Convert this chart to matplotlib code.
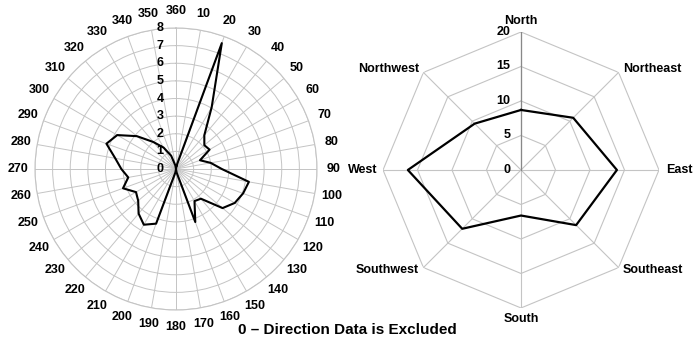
import matplotlib
matplotlib.use('Agg')
import matplotlib.pyplot as plt
import numpy as np

plt.rcParams['font.family'] = ['Liberation Sans', 'DejaVu Sans']
plt.rcParams['font.weight'] = 'bold'

# --- Données ---
# Rose des vents : pourcentage par pas de 10 degrés
directions = list(range(10, 370, 10))
pourcentages = [0.2, 7.6, 4.05, 2.5, 2.1, 2.2, 1.45, 2.0, 2.6,
                4.2, 4.05, 3.85, 3.45, 2.2, 2.1, 3.2, 0.2, 0.0,
                0.2, 3.3, 3.65, 3.3, 2.8, 2.62, 3.2, 2.75, 3.1,
                3.5, 4.2, 3.85, 2.9, 2.0, 1.4, 0.8, 0.2, 0.0]
rayons = list(range(0, 9))

# Regroupement par points cardinaux
points_cardinaux = ['North', 'Northeast', 'East', 'Southeast',
                    'South', 'Southwest', 'West', 'Northwest']
valeurs_cardinaux = [8.7, 10.7, 13.9, 11.3, 6.6, 12.05, 16.4, 9.5]
niveaux = [0, 5, 10, 15, 20]

gris = '#c4c4c4'

fig = plt.figure(figsize=(6.97, 3.44), dpi=100)

# --- Graphe de gauche : 36 directions ---
ax1 = fig.add_axes([0.0502, 0.0988, 0.4046, 0.8198], projection='polar')
ax1.set_theta_zero_location('N')
ax1.set_theta_direction(-1)

theta = np.radians(directions + [directions[0]])
r = pourcentages + [pourcentages[0]]
ax1.plot(theta, r, color='black', lw=1.5, zorder=3)

ax1.set_ylim(0, rayons[-1])
ax1.set_xticks(np.radians(directions))
ax1.set_xticklabels([str(d) for d in directions], fontsize=9, fontweight='bold')
ax1.tick_params(axis='x', pad=1.5)
ax1.set_yticks(rayons[1:])
ax1.set_yticklabels([])
ax1.grid(color=gris, lw=0.7)
ax1.spines['polar'].set_color(gris)
ax1.spines['polar'].set_linewidth(0.8)

for rv in rayons:
    ax1.annotate(str(rv), xy=(0, rv), xytext=(-9, 0), textcoords='offset points',
                 ha='right', va='center', fontsize=9, fontweight='bold')

# --- Graphe de droite : 8 points cardinaux ---
ax2 = fig.add_axes([0.5495, 0.1047, 0.396, 0.8023], projection='polar')
ax2.set_theta_zero_location('N')
ax2.set_theta_direction(-1)
ax2.set_ylim(0, niveaux[-1])
ax2.axis('off')

angles = np.radians(np.arange(0, 360, 360 / len(points_cardinaux)))
angles_fermes = np.append(angles, angles[0])

# Octogones de la grille
for n in niveaux[1:]:
    ax2.plot(angles_fermes, [n] * len(angles_fermes), color=gris, lw=0.8)
# Rayons
for a in angles:
    ax2.plot([a, a], [0, niveaux[-1]], color=gris, lw=0.8)
ax2.plot([0, 0], [0, niveaux[-1]], color='#888888', lw=0.9)

ax2.plot(angles_fermes, valeurs_cardinaux + [valeurs_cardinaux[0]],
         color='black', lw=1.6, zorder=3)

for n in niveaux:
    ax2.annotate(str(n), xy=(0, n), xytext=(-7.5, 0), textcoords='offset points',
                 ha='right', va='center', fontsize=9, fontweight='bold')

# Position des étiquettes autour de l'octogone
placements = [((0, 6), 'center', 'baseline'),
              ((3, 0), 'left', 'baseline'),
              ((5, 0), 'left', 'center'),
              ((3, -2), 'left', 'center'),
              ((0, -3.5), 'center', 'top'),
              ((-3, -2), 'right', 'center'),
              ((-4, 0), 'right', 'center'),
              ((-3, 0), 'right', 'baseline')]
for a, nom, (decal, ha, va) in zip(angles, points_cardinaux, placements):
    ax2.annotate(nom, xy=(a, niveaux[-1]), xytext=decal, textcoords='offset points',
                 ha=ha, va=va, fontsize=9, fontweight='bold')

fig.text(347 / 697, 1 - 330 / 344, '0 \u2013 Direction Data is Excluded',
         ha='center', va='center', fontsize=11, fontweight='bold')

fig.savefig('out.png', dpi=100)
